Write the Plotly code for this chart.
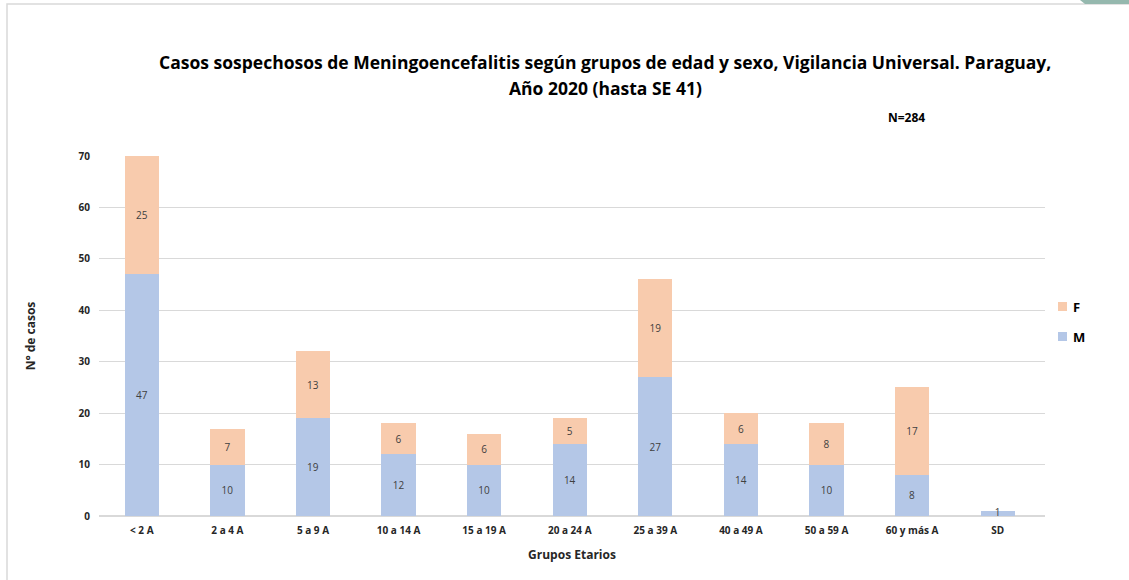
import plotly.graph_objects as go

grupos = ["< 2 A", "2 a 4 A", "5 a 9 A", "10 a 14 A", "15 a 19 A", "20 a 24 A",
          "25 a 39 A", "40 a 49 A", "50 a 59 A", "60 y más A", "SD"]
masculino = [47, 10, 19, 12, 10, 14, 27, 14, 10, 8, 1]
femenino = [23, 7, 13, 6, 6, 5, 19, 6, 8, 17, 0]
# data labels as printed in the original (the < 2 A female label reads 25)
femenino_labels = ["25", "7", "13", "6", "6", "5", "19", "6", "8", "17", ""]

FONT = "Open Sans"
color_m = "#B4C7E7"
color_f = "#F8CBAD"

W, H = 1129, 580
L, R, T, B = 99, 84, 156, 64


def px(x):
    return (x - L) / (W - L - R)


def py(y):
    return (H - B - y) / (H - T - B)


fig = go.Figure()

# bars too short to hold their label get it drawn by a text trace instead
m_labels = [str(v) if v >= 3 else "" for v in masculino]
small = [i for i, v in enumerate(masculino) if v < 3]

fig.add_trace(go.Bar(
    x=grupos, y=masculino, name="M", marker=dict(color=color_m, line=dict(width=0)),
    text=m_labels, textposition="inside", insidetextanchor="middle",
    textfont=dict(color="#404040", size=10, family=FONT),
))
fig.add_trace(go.Bar(
    x=grupos, y=femenino, name="F", marker=dict(color=color_f, line=dict(width=0)),
    text=femenino_labels, textposition="inside", insidetextanchor="middle",
    textfont=dict(color="#404040", size=10, family=FONT),
))
fig.add_trace(go.Scatter(
    x=[grupos[i] for i in small], y=[masculino[i] / 2 for i in small],
    text=[str(masculino[i]) for i in small], mode="text", textposition="middle center",
    textfont=dict(color="#404040", size=10, family=FONT), cliponaxis=False,
    hoverinfo="skip",
))

annotations = [
    dict(text="<b>Casos sospechosos de Meningoencefalitis según grupos de edad y sexo, Vigilancia Universal. Paraguay,</b>",
         x=px(605), y=py(62), font=dict(size=17.5, color="#000000")),
    dict(text="<b>Año 2020 (hasta SE 41)</b>",
         x=px(605), y=py(88), font=dict(size=17.5, color="#000000")),
    dict(text="<b>N=284</b>", x=px(906), y=py(118), font=dict(size=12, color="#000000")),
    dict(text="<b>F</b>", x=px(1071), y=py(307), xanchor="left", font=dict(size=13, color="#000000")),
    dict(text="<b>M</b>", x=px(1071), y=py(337), xanchor="left", font=dict(size=13, color="#000000")),
]
for a in annotations:
    a.setdefault("xanchor", "center")
    a.update(xref="paper", yref="paper", yanchor="middle", showarrow=False)

shapes = [
    # frame
    dict(type="path", path=f"M {px(7)},{py(582)} L {px(7)},{py(4)} L {px(1129)},{py(4)}",
         line=dict(color="#D9D9D9", width=1.5)),
    # green corner
    dict(type="path", path=f"M {px(1080)},{py(0)} L {px(1129)},{py(0)} L {px(1129)},{py(4)} L {px(1085)},{py(4)} Z",
         line=dict(width=0), fillcolor="#95B8AE"),
    # legend squares
    dict(type="rect", x0=px(1058), x1=px(1067), y0=py(311), y1=py(302),
         line=dict(width=0), fillcolor=color_f),
    dict(type="rect", x0=px(1058), x1=px(1067), y0=py(341), y1=py(332),
         line=dict(width=0), fillcolor=color_m),
]
for s in shapes:
    s.update(xref="paper", yref="paper")

fig.update_layout(
    barmode="stack",
    bargap=0.6,
    width=W, height=H,
    margin=dict(l=L, r=R, t=T, b=B),
    paper_bgcolor="white", plot_bgcolor="white",
    font=dict(family=FONT, color="#262626"),
    showlegend=False,
    xaxis=dict(
        title=dict(text="<b>Grupos Etarios</b>", font=dict(size=12, color="#262626"), standoff=14),
        tickfont=dict(size=10, color="#262626"),
        tickprefix="<b>", ticksuffix="</b>",
        ticklabelstandoff=7,
        showline=False, ticks="",
    ),
    yaxis=dict(
        title=dict(text="<b>N° de casos</b>", font=dict(size=12, color="#262626"), standoff=40),
        range=[0, 70], dtick=10,
        tickfont=dict(size=10, color="#262626"),
        tickprefix="<b>", ticksuffix="</b>",
        ticklabelstandoff=8,
        gridcolor="#D9D9D9", gridwidth=1,
        zeroline=True, zerolinecolor="#D9D9D9", zerolinewidth=1.5,
        ticks="", ticklen=0,
    ),
    annotations=annotations,
    shapes=shapes,
)

fig.write_html("out.html", config={"displayModeBar": False},
               post_script="document.body.style.margin='0';")
